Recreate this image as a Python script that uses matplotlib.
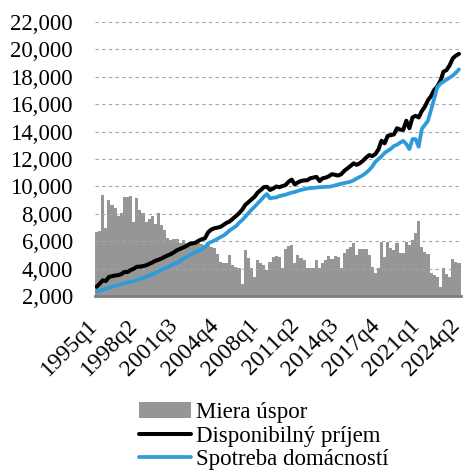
import numpy as np
import matplotlib.pyplot as plt
import matplotlib.transforms as mtransforms

plt.rcParams['font.family'] = ['Liberation Serif', 'DejaVu Serif']

# ── Data (quarterly, 1995q1 .. 2024q2) ──
years = range(1995, 2025)
quarters = [f'{y}q{q}' for y in years for q in range(1, 5)][:118]

# savings rate, drawn on the same scale (bars rise from the 2,000 baseline)
miera_uspor = [
    6700, 6750, 9370, 6960, 9000, 8640, 8400, 7840, 8060, 9250,
    9200, 9300, 7420, 9150, 8280, 8060, 7420, 7640, 7840, 7280,
    8060, 7200, 6840, 6230, 6100, 6150, 6150, 5900, 6100, 5850,
    5850, 5900, 5850, 5900, 5800, 5700, 5700, 5600, 5500, 5100,
    4500, 4450, 4450, 5000, 4300, 4150, 4050, 2900, 5400, 4750,
    4040, 3360, 4630, 4390, 4280, 3900, 4510, 4820, 4920, 4820,
    4040, 5410, 5650, 5700, 4390, 4990, 4750, 4600, 4040, 4040,
    4040, 4630, 4040, 4440, 4630, 4920, 4680, 4920, 4820, 4040,
    5110, 5410, 5600, 5850, 4990, 5460, 5410, 5410, 4990, 4140,
    3700, 4040, 5960, 4870, 5960, 5530, 5360, 5850, 5110, 5160,
    5960, 5700, 6090, 6580, 7500, 5600, 5240, 5060, 3650, 3530,
    3410, 2630, 4040, 3600, 3410, 4680, 4510, 4390,
]

disponibilny_prijem = [
    2680, 2900, 3150, 3100, 3400, 3450, 3500, 3530, 3600, 3770,
    3750, 3900, 4000, 4140, 4150, 4190, 4250, 4350, 4450, 4580,
    4650, 4750, 4870, 4970, 5070, 5200, 5350, 5450, 5550, 5650,
    5800, 5850, 5900, 6050, 6150, 6220, 6650, 6850, 6950, 7000,
    7050, 7200, 7350, 7450, 7650, 7840, 8050, 8300, 8650, 8850,
    9050, 9250, 9550, 9740, 9950, 9980, 9750, 9850, 10000, 9950,
    10030, 10100, 10350, 10500, 10150, 10300, 10400, 10450, 10450, 10600,
    10650, 10700, 10400, 10600, 10650, 10750, 10900, 10850, 10800, 10900,
    11150, 11320, 11500, 11690, 11580, 11700, 11880, 12100, 12290, 12220,
    12365, 12700, 13340, 13150, 13700, 13750, 13800, 14250, 14150, 14130,
    14800, 14250, 15040, 15160, 15040, 15500, 15830, 16300, 16600, 17050,
    17300, 17700, 18380, 18500, 18850, 19350, 19550, 19680,
]

spotreba_domacnosti = [
    2310, 2400, 2450, 2550, 2600, 2700, 2750, 2800, 2870, 2940,
    3000, 3050, 3100, 3170, 3250, 3330, 3410, 3500, 3600, 3700,
    3800, 3930, 4030, 4100, 4250, 4350, 4430, 4580, 4720, 4850,
    4980, 5100, 5230, 5330, 5430, 5550, 5850, 5950, 6050, 6180,
    6300, 6420, 6600, 6800, 6950, 7100, 7350, 7550, 7790, 8050,
    8300, 8520, 8760, 9000, 9250, 9450, 9130, 9180, 9200, 9300,
    9350, 9400, 9480, 9550, 9600, 9680, 9750, 9800, 9850, 9880,
    9900, 9920, 9950, 9960, 9980, 9980, 10020, 10080, 10150, 10200,
    10250, 10300, 10350, 10450, 10590, 10700, 10830, 11000, 11200, 11450,
    11800, 12000, 12200, 12450, 12600, 12750, 12950, 13050, 13200, 13330,
    13100, 12730, 13460, 13460, 12900, 14200, 14500, 14800, 15600, 16400,
    17240, 17500, 17650, 17800, 17950, 18100, 18300, 18550,
]

BASE = 2000
x = np.arange(len(quarters))

fig = plt.figure(figsize=(4.68, 4.70), dpi=100)
ax = fig.add_axes([0.203, 0.370, 0.781, 0.583])

bars = ax.bar(x, np.array(miera_uspor) - BASE, bottom=BASE, width=1.0,
              color='#969696', linewidth=0, zorder=1, label='Miera úspor')
l1, = ax.plot(x, disponibilny_prijem, color='black', linewidth=2.9, zorder=3,
              solid_capstyle='round', label='Disponibilný príjem')
l2, = ax.plot(x, spotreba_domacnosti, color='#2E9BDA', linewidth=2.7, zorder=3,
              solid_capstyle='round', label='Spotreba domácností')

ax.set_xlim(-0.5, len(x) - 0.5)
ax.set_ylim(2000, 22000)
ax.set_yticks(range(2000, 22001, 2000))
ax.set_yticklabels([f'{v:,}' for v in range(2000, 22001, 2000)])
ax.set_xticks(x[::13])
ax.set_xticklabels(quarters[::13])

ax.yaxis.grid(True, linestyle=(0, (3, 3)), color='#a6a6a6', linewidth=0.8)
ax.set_axisbelow(False)
for s in ['top', 'right', 'left']:
    ax.spines[s].set_visible(False)
ax.spines['bottom'].set_color('#7f7f7f')
ax.spines['bottom'].set_linewidth(2)
ax.spines['bottom'].set_zorder(4)
ax.tick_params(axis='both', length=0)
ax.tick_params(axis='y', pad=16, labelsize=16.5)
ax.tick_params(axis='x', pad=19, labelsize=17)

# labels end at the tick, turned 45 degrees
shift = mtransforms.ScaledTranslation(-2 / 100, 0, fig.dpi_scale_trans)
for lab in ax.get_xticklabels():
    lab.set_rotation(45)
    lab.set_ha('right')
    lab.set_va('center')
    lab.set_rotation_mode('anchor')
    lab.set_transform(lab.get_transform() + shift)

fig.legend(handles=[bars, l1, l2], loc='lower left',
           bbox_to_anchor=(0.262, -0.035), frameon=False,
           fontsize=16.5, handlelength=2.3, handletextpad=0.2,
           labelspacing=0.12, borderpad=0.2)

plt.savefig('out.png', dpi=100)
